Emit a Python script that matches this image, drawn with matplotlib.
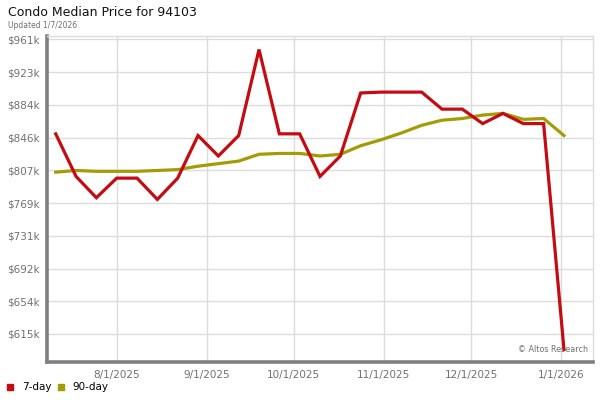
import datetime as dt
import matplotlib
matplotlib.use("Agg")
import matplotlib.pyplot as plt
import matplotlib.dates as mdates

# ==========================================
# Data
# ==========================================

start_date = dt.date(2025, 7, 11)
n_weeks = 26
dates = [start_date + dt.timedelta(days=7 * i) for i in range(n_weeks)]

# median price in $k
price_7day = [850, 800, 775, 798, 798, 773, 798, 848, 824, 848,
              949, 850, 850, 800, 824, 898, 899, 899, 899, 879,
              879, 862, 874, 862, 862, 597]

price_90day = [805, 807, 806, 806, 806, 807, 808, 812, 815, 818,
               826, 827, 827, 824, 826, 836, 843, 851, 860, 866,
               868, 872, 874, 867, 868, 848]

y_ticks = [615, 654, 692, 731, 769, 807, 846, 884, 923, 961]
y_tick_pos = [615 + i * (961 - 615) / 9 for i in range(10)]

x_tick_dates = [dt.date(2025, 8, 1), dt.date(2025, 9, 1), dt.date(2025, 10, 1),
                dt.date(2025, 11, 1), dt.date(2025, 12, 1), dt.date(2026, 1, 1)]
x_tick_labels = ["8/1/2025", "9/1/2025", "10/1/2025", "11/1/2025", "12/1/2025", "1/1/2026"]

red = "#c40b12"
olive = "#a39c06"
grid_col = "#dcdcdc"
text_grey = "#707070"

# ==========================================
# Figure
# ==========================================

fig = plt.figure(figsize=(6, 4), dpi=100)
ax = fig.add_axes([47 / 600, 38 / 400, 546 / 600, 326 / 400])

ax.plot(dates, price_90day, color=olive, linewidth=2.3, solid_joinstyle="miter", zorder=3)
ax.plot(dates, price_7day, color=red, linewidth=2.3, solid_joinstyle="miter", zorder=4)

ax.set_xlim(dt.date(2025, 8, 1) - dt.timedelta(days=24.3),
            dt.date(2026, 1, 1) + dt.timedelta(days=11.4))
ax.set_ylim(961 - 323 * 1.173, 961 + 3.3 * 1.173)

ax.set_yticks(y_tick_pos)
ax.set_yticklabels(["$" + str(v) + "k" for v in y_ticks])
ax.set_xticks([mdates.date2num(d) for d in x_tick_dates])
ax.set_xticklabels(x_tick_labels)

ax.tick_params(axis="both", length=0, labelsize=7.5, colors=text_grey)
ax.tick_params(axis="y", pad=5)
ax.tick_params(axis="x", pad=6)

ax.grid(True, color=grid_col, linewidth=1)
ax.set_axisbelow(True)

for side in ["top", "right"]:
    ax.spines[side].set_color(grid_col)
    ax.spines[side].set_linewidth(1)
for side in ["left", "bottom"]:
    ax.spines[side].set_color("#808080")
    ax.spines[side].set_linewidth(2.6)

# ==========================================
# Texts
# ==========================================

fig.text(8 / 600, 1 - 13 / 400, "Condo Median Price for 94103",
         fontsize=9, va="center", ha="left", color="#111111")
fig.text(8 / 600, 1 - 25 / 400, "Updated 1/7/2026",
         fontsize=5.5, va="center", ha="left", color=text_grey)
ax.text(0.99, 0.025, "© Altos Research", transform=ax.transAxes,
        fontsize=5.8, ha="right", va="bottom", color=text_grey)

# legend
fig.patches.append(plt.Rectangle((7 / 600, 1 - 390 / 400), 6 / 600, 6 / 400,
                                 transform=fig.transFigure, color=red))
fig.text(22 / 600, 1 - 387 / 400, "7-day", fontsize=7.5, va="center", ha="left")
fig.patches.append(plt.Rectangle((58 / 600, 1 - 390 / 400), 6 / 600, 6 / 400,
                                 transform=fig.transFigure, color=olive))
fig.text(72 / 600, 1 - 387 / 400, "90-day", fontsize=7.5, va="center", ha="left")

fig.savefig("out.png", dpi=100)
